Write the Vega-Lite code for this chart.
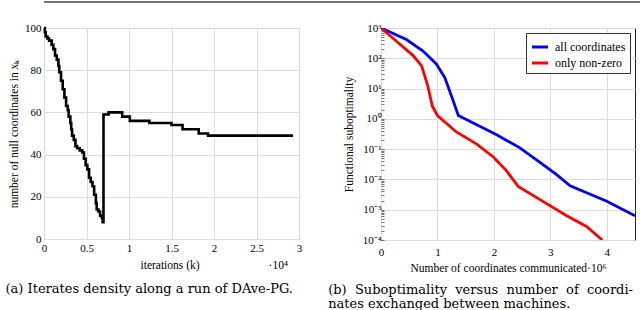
{
 "$schema": "https://vega.github.io/schema/vega-lite/v6.json",
 "padding": {"left": 5, "top": 1, "right": 0, "bottom": 0},
 "background": "white",
 "spacing": 18,
 "config": {
   "font": "Liberation Serif",
   "view": {"stroke": "#222", "strokeWidth": 1},
   "axis": {"grid": true, "gridColor": "#dcdcdc", "gridWidth": 1, "ticks": false, "domain": false, "labelFont": "Liberation Serif", "labelFontSize": 11, "labelColor": "#000", "titleFont": "Liberation Serif", "titleFontSize": 11.5, "titleFontWeight": "normal", "titleColor": "#000", "labelPadding": 3, "labelFlush": false},
   "legend": {"labelFont": "Liberation Serif"},
   "title": {"font": "DejaVu Serif", "fontWeight": "normal", "color": "#000"}
 },
 "vconcat": [
  {"width": 640, "height": 1, "view": {"stroke": null},
   "data": {"values": [{"v": 1}]},
   "mark": {"type": "rule", "color": "#777", "strokeWidth": 2},
   "encoding": {"y": {"field": "v", "type": "quantitative", "axis": null, "scale": {"domain": [0, 1]}}}},
  {"hconcat": [
    {"width": 255, "height": 211,
     "title": {"text": "(a) Iterates density along a run of DAve-PG.", "orient": "bottom", "anchor": "start", "fontSize": 13, "offset": 12, "dx": -3},
     "data": {"values": [
      {"k": 0, "n": 100}, {"k": 0.01, "n": 98}, {"k": 0.02, "n": 96}, {"k": 0.04, "n": 95}, {"k": 0.06, "n": 94},
      {"k": 0.09, "n": 92}, {"k": 0.11, "n": 90}, {"k": 0.13, "n": 87}, {"k": 0.15, "n": 85}, {"k": 0.17, "n": 82},
      {"k": 0.18, "n": 79}, {"k": 0.2, "n": 75}, {"k": 0.22, "n": 71}, {"k": 0.24, "n": 67}, {"k": 0.26, "n": 63},
      {"k": 0.28, "n": 61}, {"k": 0.29, "n": 58}, {"k": 0.31, "n": 55}, {"k": 0.32, "n": 52}, {"k": 0.33, "n": 49},
      {"k": 0.35, "n": 47}, {"k": 0.37, "n": 44}, {"k": 0.39, "n": 43}, {"k": 0.42, "n": 42}, {"k": 0.45, "n": 41},
      {"k": 0.47, "n": 38}, {"k": 0.49, "n": 35}, {"k": 0.51, "n": 33}, {"k": 0.53, "n": 29}, {"k": 0.55, "n": 27},
      {"k": 0.57, "n": 25}, {"k": 0.59, "n": 21}, {"k": 0.61, "n": 17}, {"k": 0.62, "n": 14}, {"k": 0.64, "n": 13},
      {"k": 0.66, "n": 11}, {"k": 0.68, "n": 10}, {"k": 0.69, "n": 8}, {"k": 0.7, "n": 59}, {"k": 0.76, "n": 60},
      {"k": 0.92, "n": 58}, {"k": 1.01, "n": 56}, {"k": 1.24, "n": 55}, {"k": 1.5, "n": 54}, {"k": 1.63, "n": 52},
      {"k": 1.82, "n": 50}, {"k": 1.93, "n": 49}, {"k": 2.93, "n": 49}
     ]},
     "mark": {"type": "line", "interpolate": "step-after", "color": "#000", "strokeWidth": 2.6},
     "encoding": {
      "x": {"field": "k", "type": "quantitative", "scale": {"domain": [0, 3], "nice": false},
            "axis": {"values": [0, 0.5, 1, 1.5, 2, 2.5, 3], "format": ".1~f", "title": "iterations (k)\u2003\u2003\u2003\u2003\u2003\u2003·10⁴", "titleAnchor": "start", "titleAlign": "left", "titleX": 96, "titlePadding": 6}},
      "y": {"field": "n", "type": "quantitative", "scale": {"domain": [0, 100], "nice": false},
            "axis": {"values": [0, 20, 40, 60, 80, 100], "title": "number of null coordinates in xₖ", "titlePadding": 5}}
     }},
    {"width": 254, "height": 212,
     "title": {"text": ["(b)\u00a0 Suboptimality\u00a0 versus\u00a0 number\u00a0 of\u00a0 coordi-", "nates exchanged between machines."], "orient": "bottom", "anchor": "start", "fontSize": 13, "lineHeight": 14, "offset": 10, "dx": -15},
     "data": {"values": [
      {"x": 0, "f": 1000, "s": "all coordinates"}, {"x": 0.45, "f": 417, "s": "all coordinates"}, {"x": 0.745, "f": 174, "s": "all coordinates"},
      {"x": 0.98, "f": 65, "s": "all coordinates"}, {"x": 1.13, "f": 23, "s": "all coordinates"}, {"x": 1.25, "f": 5.6, "s": "all coordinates"},
      {"x": 1.37, "f": 1.29, "s": "all coordinates"}, {"x": 2.04, "f": 0.305, "s": "all coordinates"}, {"x": 2.46, "f": 0.11, "s": "all coordinates"},
      {"x": 2.81, "f": 0.037, "s": "all coordinates"}, {"x": 3.1, "f": 0.015, "s": "all coordinates"}, {"x": 3.35, "f": 0.0062, "s": "all coordinates"},
      {"x": 4.0, "f": 0.0019, "s": "all coordinates"}, {"x": 4.5, "f": 0.00063, "s": "all coordinates"},
      {"x": 0, "f": 1000, "s": "only non-zero"}, {"x": 0.33, "f": 295, "s": "only non-zero"}, {"x": 0.57, "f": 123, "s": "only non-zero"},
      {"x": 0.72, "f": 56, "s": "only non-zero"}, {"x": 0.83, "f": 12, "s": "only non-zero"}, {"x": 0.91, "f": 2.6, "s": "only non-zero"},
      {"x": 1.0, "f": 1.29, "s": "only non-zero"}, {"x": 1.335, "f": 0.37, "s": "only non-zero"}, {"x": 1.69, "f": 0.15, "s": "only non-zero"},
      {"x": 1.99, "f": 0.055, "s": "only non-zero"}, {"x": 2.22, "f": 0.0195, "s": "only non-zero"}, {"x": 2.43, "f": 0.0059, "s": "only non-zero"},
      {"x": 2.81, "f": 0.0022, "s": "only non-zero"}, {"x": 3.29, "f": 0.00063, "s": "only non-zero"}, {"x": 3.64, "f": 0.00028, "s": "only non-zero"},
      {"x": 3.92, "f": 0.0001, "s": "only non-zero"}
     ]},
     "mark": {"type": "line", "strokeWidth": 2.8, "clip": true},
     "encoding": {
      "x": {"field": "x", "type": "quantitative", "scale": {"domain": [0, 4.5], "nice": false},
            "axis": {"values": [0, 1, 2, 3, 4], "format": "d", "title": "Number of coordinates communicated·10⁶", "titlePadding": 5, "labelPadding": 6}},
      "y": {"field": "f", "type": "quantitative", "scale": {"type": "log", "domain": [0.0001, 1000], "nice": false},
            "axis": {"values": [0.0001, 0.0002, 0.0003, 0.0004, 0.0005, 0.0006, 0.0007, 0.0008, 0.0009,
                                0.001, 0.002, 0.003, 0.004, 0.005, 0.006, 0.007, 0.008, 0.009,
                                0.01, 0.02, 0.03, 0.04, 0.05, 0.06, 0.07, 0.08, 0.09,
                                0.1, 0.2, 0.3, 0.4, 0.5, 0.6, 0.7, 0.8, 0.9,
                                1, 2, 3, 4, 5, 6, 7, 8, 9,
                                10, 20, 30, 40, 50, 60, 70, 80, 90,
                                100, 200, 300, 400, 500, 600, 700, 800, 900, 1000],
                     "ticks": true, "tickSize": -3, "tickColor": "#555", "tickWidth": 0.8, "labelPadding": 3,
                     "gridOpacity": {"condition": {"test": "abs(log(datum.value)/LN10 - round(log(datum.value)/LN10)) < 0.001", "value": 1}, "value": 0},
                     "labelExpr": "abs(log(datum.value)/LN10 - round(log(datum.value)/LN10)) > 0.001 ? '' : datum.value >= 999 ? '10³' : datum.value >= 99 ? '10²' : datum.value >= 9 ? '10¹' : datum.value >= 0.9 ? '10⁰' : datum.value >= 0.09 ? '10⁻¹' : datum.value >= 0.009 ? '10⁻²' : datum.value >= 0.0009 ? '10⁻³' : '10⁻⁴'", "title": "Functional suboptimality", "titlePadding": 8}},
      "color": {"field": "s", "type": "nominal", "scale": {"domain": ["all coordinates", "only non-zero"], "range": ["#0000ff", "#ff0000"]},
                "legend": {"title": null, "orient": "top-right", "offset": 5, "fillColor": "#fff", "strokeColor": "#333", "padding": 4, "symbolType": "stroke", "symbolStrokeWidth": 3, "symbolSize": 260, "labelFontSize": 12, "labelFont": "Liberation Serif", "rowPadding": 0, "labelOffset": 5, "cornerRadius": 0}}
     }}
   ],
   "spacing": 24,
   "resolve": {"scale": {"color": "independent"}, "legend": {"color": "independent"}}}
 ]
}
